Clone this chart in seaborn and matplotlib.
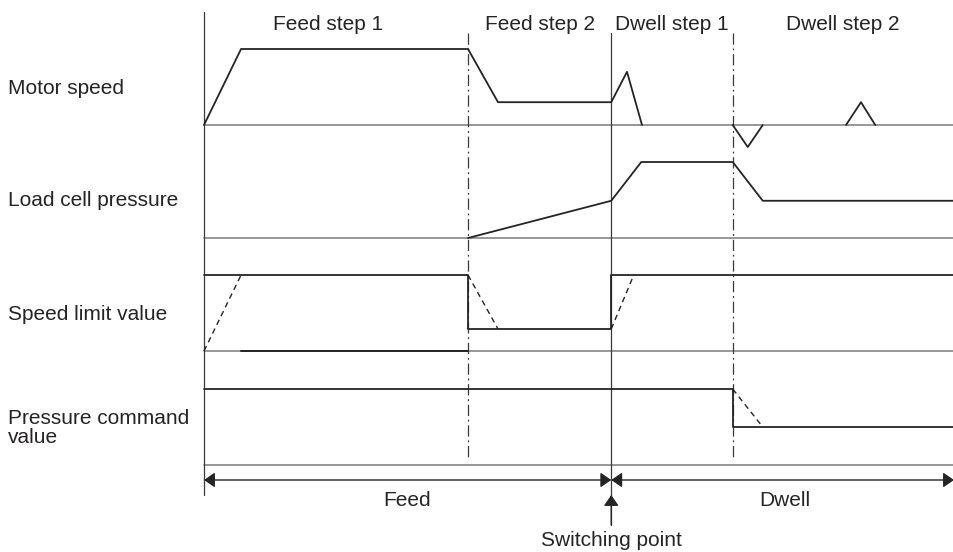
import numpy as np
import pandas as pd
import matplotlib.pyplot as plt
import seaborn as sns

# time breakpoints (arbitrary time units) and signal levels (1 = full level)
t_end = 50
t_feed2 = 17.6      # start of feed step 2
t_switch = 27.15    # switching point (feed -> dwell)
t_dwell2 = 35.25    # start of dwell step 2

motor_t = [0, 2.47, 17.6, 19.6, 27.15, 28.2, 29.2]
motor_v = [0, 1.0, 1.0, 0.30, 0.30, 0.70, 0]
motor_dip_t = [35.25, 36.25, 37.25]
motor_dip_v = [0, -0.29, 0]
motor_bump_t = [42.8, 43.8, 44.75]
motor_bump_v = [0, 0.30, 0]

load_t = [17.6, 27.15, 29.15, 35.25, 37.25, 50]
load_v = [0, 0.49, 1.0, 1.0, 0.49, 0.49]

limit_t = [0, 17.6, 17.6, 27.15, 27.15, 50]
limit_v = [1.0, 1.0, 0.29, 0.29, 1.0, 1.0]
limit_low_t = [2.47, 17.6]
limit_low_v = [0, 0]
limit_ramps = [([0, 2.47], [0, 1.0]),
               ([17.6, 19.6], [1.0, 0.29]),
               ([27.15, 28.65], [0.29, 1.0])]

cmd_t = [0, 35.25, 35.25, 50]
cmd_v = [1.0, 1.0, 0.5, 0.5]
cmd_ramp_t = [35.25, 37.25]
cmd_ramp_v = [1.0, 0.5]

row_names = ["Motor speed", "Load cell pressure", "Speed limit value",
             "Pressure command\nvalue"]
step_names = ["Feed step 1", "Feed step 2", "Dwell step 1", "Dwell step 2"]

sns.set_style("white")
plt.rcParams['font.family'] = ['Liberation Sans', 'DejaVu Sans']

W, H = 954, 552
fig = plt.figure(figsize=(W / 100, H / 100), dpi=100)
ax = fig.add_axes([0, 0, 1, 1])
ax.set_xlim(-13.6, 50)
ax.set_ylim(-(H - 125) / 76, 125 / 76)
ax.axis("off")

dark = "#262324"
gray = "#7a7a7a"
vline = "#3a3a3a"
offsets = [0, -1.487, -2.974, -4.474]


def py(p):
    # pixel row -> data y
    return (125 - p) / 76


def line(t, v, row, **kw):
    kw.setdefault("color", dark)
    kw.setdefault("lw", 1.3)
    y = np.asarray(v, dtype=float) + offsets[row]
    sns.lineplot(x=t, y=y, ax=ax, sort=False, estimator=None, **kw)


# baselines
for r in range(4):
    line([0, t_end], [0, 0], r, color=gray, lw=1.1)

# vertical guides
ax.plot([0, 0], [py(12), py(495)], color=vline, lw=0.9)
for tb in [t_feed2, t_dwell2]:
    ax.plot([tb, tb], [py(33), py(460)], color=vline, lw=0.9,
            ls=(0, (9, 3, 1.5, 3)))
ax.plot([t_switch, t_switch], [py(33), py(525)], color=vline, lw=0.9)

# signals
line(motor_t, motor_v, 0)
line(motor_dip_t, motor_dip_v, 0)
line(motor_bump_t, motor_bump_v, 0)

line(load_t, load_v, 1)

line(limit_t, limit_v, 2)
line(limit_low_t, limit_low_v, 2, lw=1.4)
for rt, rv in limit_ramps:
    line(rt, rv, 2, lw=1.0, ls=(0, (4, 3)))

line(cmd_t, cmd_v, 3)
line(cmd_ramp_t, cmd_ramp_v, 3, lw=1.0, ls=(0, (4, 3)))

# feed / dwell arrows
astyle = "<|-|>,head_length=0.65,head_width=0.45"
ya = py(480)
for a, b in [(0, t_switch), (t_switch, t_end)]:
    ax.annotate("", xy=(b, ya), xytext=(a, ya),
                arrowprops=dict(arrowstyle=astyle, mutation_scale=10,
                                color=dark, lw=1.0, shrinkA=0, shrinkB=0))
ax.annotate("", xy=(t_switch, py(495)), xytext=(t_switch, py(525)),
            arrowprops=dict(arrowstyle="-|>,head_length=0.65,head_width=0.45",
                            mutation_scale=10, color=dark, lw=1.0,
                            shrinkA=0, shrinkB=0))

# texts
fs = 15
for name, yp in zip(row_names, [88, 201, 314, 428]):
    fig.text(8 / W, 1 - yp / H, name, ha="left", va="center", fontsize=fs,
             color=dark, linespacing=1.0)
for name, xp in zip(step_names, [328, 540, 672, 843]):
    fig.text(xp / W, 1 - 24 / H, name, ha="center", va="center",
             fontsize=fs, color=dark)
fig.text(407 / W, 1 - 500 / H, "Feed", ha="center", va="center",
         fontsize=fs, color=dark)
fig.text(785 / W, 1 - 500 / H, "Dwell", ha="center", va="center",
         fontsize=fs, color=dark)
fig.text(611 / W, 1 - 541 / H, "Switching point", ha="center", va="center",
         fontsize=fs, color=dark)

fig.savefig("out.png", dpi=100)
